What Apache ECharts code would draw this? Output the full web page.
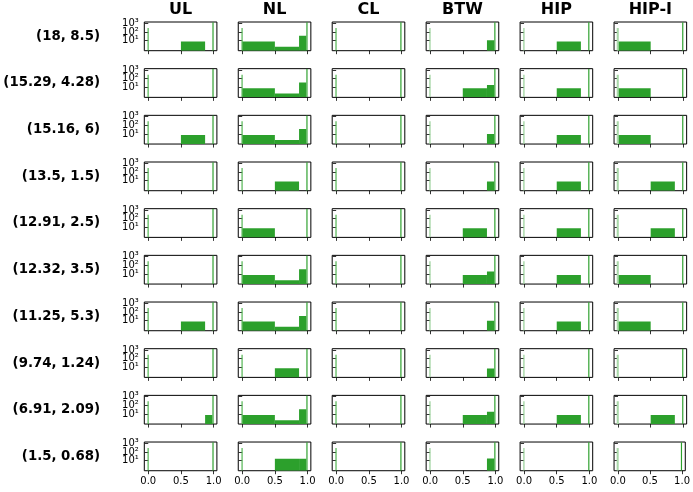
<!DOCTYPE html>
<html>
<head>
<meta charset="utf-8">
<script src="https://cdn.jsdelivr.net/npm/echarts@6/dist/echarts.min.js"></script>
<style>html,body{margin:0;padding:0;background:#fff;}#c{width:693px;height:492px;}</style>
</head>
<body>
<div id="c"></div>
<script>
// ---- data ----
const rowLabels = ['(18, 8.5)', '(15.29, 4.28)', '(15.16, 6)', '(13.5, 1.5)', '(12.91, 2.5)',
  '(12.32, 3.5)', '(11.25, 5.3)', '(9.74, 1.24)', '(6.91, 2.09)', '(1.5, 0.68)'];
const colLabels = ['UL', 'NL', 'CL', 'BTW', 'HIP', 'HIP-I'];
const binEdges = [0, 0.5, 0.87, 0.98];          // edges of the three middle bins
const zeroBin = [-0.011, 0.007];
const zeroBinWide = [-0.02, 0.012];
const oneBin = [0.982, 1.0];
const zeroCount = 290;
const oneCount = 1350;
const xTicks = [0, 0.5, 1.0];
const yTicks = [10, 100, 1000];
const yTickLabels = ['10\u00B9', '10\u00B2', '10\u00B3'];
// counts per column, per row: [0-0.5, 0.5-0.87, 0.87-0.98]
const countsUL  = [[0,8,0],[0,0,0],[0,8,0],[0,0,0],[0,0,0],[0,0,0],[0,8,0],[0,0,0],[0,0,8],[0,0,0]];
const countsNL  = [[8,2,38],[8,2,36],[8,2,38],[0,8,0],[8,0,0],[8,2,36],[8,2,36],[0,8,0],[8,2,36],[0,17,17]];
const countsCL  = [[0,0,0],[0,0,0],[0,0,0],[0,0,0],[0,0,0],[0,0,0],[0,0,0],[0,0,0],[0,0,0],[0,0,0]];
const countsBTW = [[0,0,11],[0,8,19],[0,0,10],[0,0,8],[0,8,0],[0,8,19],[0,0,10],[0,0,7.5],[0,8,18],[0,0,18]];
const countsHIP = [[0,8,0],[0,8,0],[0,8,0],[0,8,0],[0,8,0],[0,8,0],[0,8,0],[0,0,0],[0,8,0],[0,0,0]];
const countsHIPI= [[8,0,0],[8,0,0],[8,0,0],[0,8,0],[0,8,0],[8,0,0],[8,0,0],[0,0,0],[0,8,0],[0,0,0]];
const allCounts = [countsUL, countsNL, countsCL, countsBTW, countsHIP, countsHIPI];

// ---- style / layout ----
const darkGreen = '#2ca02c';
const zeroColors = ['#4fb44f', '#4fb44f', '#4fb44f', '#95cf95', '#95cf95', '#a9d8a9'];
const xMin = -0.0605, xMax = 1.0505, yMin = 0.708, yMax = 1413;
const left0 = 144.3, colStep = 93.95, panelW = 72.6;
const top0 = 22, rowStep = 46.67, panelH = 28.7;
const FONT = '"DejaVu Sans", sans-serif';

const grids = [], xAxes = [], yAxes = [], series = [], graphics = [];
for (let i = 0; i < rowLabels.length; i++) {
  for (let j = 0; j < colLabels.length; j++) {
    const k = i * colLabels.length + j;
    grids.push({left: left0 + colStep * j, top: top0 + rowStep * i, width: panelW, height: panelH,
      show: true, borderColor: '#000', borderWidth: 1, backgroundColor: '#fff'});
    xAxes.push({type: 'value', gridIndex: k, min: xMin, max: xMax,
      axisLine: {show: false}, splitLine: {show: false},
      axisTick: {show: true, customValues: xTicks, length: 3.5, lineStyle: {color: '#000', width: 0.8}},
      axisLabel: {show: i === rowLabels.length - 1, customValues: xTicks, margin: 6, hideOverlap: false,
        showMinLabel: true, showMaxLabel: true,
        formatter: v => Number(v).toFixed(1), color: '#000', fontSize: 10, fontFamily: FONT}});
    const yIdx = yAxes.length;
    yAxes.push({type: 'log', gridIndex: k, min: yMin, max: yMax,
      axisLine: {show: false}, splitLine: {show: false}, minorTick: {show: false},
      axisTick: {show: true, customValues: yTicks, length: 3.5, lineStyle: {color: '#000', width: 0.8}},
      axisLabel: {show: false}});
    if (j === 0) {
      // one label-only axis per tick so the tightly packed labels are all kept
      yTicks.forEach((tv, t) => {
        yAxes.push({type: 'log', gridIndex: k, min: yMin, max: yMax, position: 'left', offset: 0,
          axisLine: {show: false}, splitLine: {show: false}, minorTick: {show: false},
          axisTick: {show: false},
          axisLabel: {show: true, customValues: [tv], margin: 5.5, showMinLabel: true, showMaxLabel: true,
            formatter: () => yTickLabels[t], color: '#000', fontSize: 10, fontFamily: FONT}});
      });
    }
    const c = allCounts[j][i];
    const data = [];
    for (let b = 0; b < 3; b++) {
      if (c[b] > 0) data.push([binEdges[b], binEdges[b + 1], c[b], 0]);
    }
    const zb = j === 5 ? zeroBinWide : zeroBin;
    data.push([zb[0], zb[1], zeroCount, 1]);
    data.push([oneBin[0], oneBin[1], oneCount, 0]);
    series.push({type: 'custom', xAxisIndex: k, yAxisIndex: yIdx, silent: true,
      encode: {x: [0, 1], y: 2},
      clip: true,
      renderItem: (params, api) => {
        const x0 = api.value(0), x1 = api.value(1), h = api.value(2), col = api.value(3);
        const p0 = api.coord([x0, h]);
        const p1 = api.coord([x1, yMin]);
        return {type: 'rect', shape: {x: p0[0], y: p0[1], width: p1[0] - p0[0], height: p1[1] - p0[1]},
          style: {fill: col === 1 ? zeroColors[j] : darkGreen}};
      },
      data: data});
  }
}
for (let j = 0; j < colLabels.length; j++) {
  graphics.push({type: 'text', x: left0 + colStep * j + panelW / 2, y: 10,
    style: {text: colLabels[j], textAlign: 'center', textVerticalAlign: 'middle',
      font: 'bold 16px ' + FONT, fill: '#000'}});
}
for (let i = 0; i < rowLabels.length; i++) {
  graphics.push({type: 'text', x: 100, y: top0 + rowStep * i + panelH / 2,
    style: {text: rowLabels[i], textAlign: 'right', textVerticalAlign: 'middle',
      font: 'bold 13.3px ' + FONT, fill: '#000'}});
}

const chart = echarts.init(document.getElementById('c'), null, {renderer: 'canvas'});
chart.setOption({animation: false, backgroundColor: '#fff', grid: grids, xAxis: xAxes, yAxis: yAxes,
  series: series, graphic: graphics});
</script>
</body>
</html>
